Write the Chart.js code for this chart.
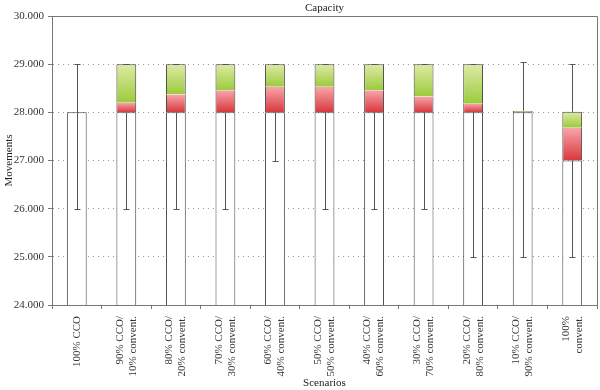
<!DOCTYPE html>
<html>
<head>
<meta charset="utf-8">
<script src="https://cdn.jsdelivr.net/npm/chart.js@4.4.1/dist/chart.umd.min.js"></script>
<style>
  html, body { margin: 0; padding: 0; background: #fff; }
  #wrap { width: 600px; height: 390px; }
</style>
</head>
<body>
<div id="wrap"><canvas id="boxChart"></canvas></div>
<script>
// scenarios
const scenarios = [
  ['100% CCO'],
  ['90% CCO/', '10% convent.'],
  ['80% CCO/', '20% convent.'],
  ['70% CCO/', '30% convent.'],
  ['60% CCO/', '40% convent.'],
  ['50% CCO/', '50% convent.'],
  ['40% CCO/', '60% convent.'],
  ['30% CCO/', '70% convent.'],
  ['20% CCO/', '80% convent.'],
  ['10% CCO/', '90% convent.'],
  ['100%', 'convent.']
];

// box plot values (movements)
const minVals    = [26000, 26000, 26000, 26000, 27000, 26000, 26000, 26000, 25000, 25000, 25000];
const q1Vals     = [28000, 28000, 28000, 28000, 28000, 28000, 28000, 28000, 28000, 28000, 27000];
const medianVals = [28000, 28200, 28370, 28460, 28530, 28530, 28460, 28330, 28180, 28000, 27680];
const q3Vals     = [28000, 29000, 29000, 29000, 29000, 29000, 29000, 29000, 29000, 28030, 28010];
const maxVals    = [29000, 29000, 29000, 29000, 29000, 29000, 29000, 29000, 29000, 29050, 29000];

const yTicks = [24000, 25000, 26000, 27000, 28000, 29000, 30000];
const axisMin = 24000;

const FONT = '"Liberation Serif", "DejaVu Serif", serif';

// gradient fill for one floating bar
function gradientFill(topColor, bottomColor) {
  return (c) => {
    const chart = c.chart;
    if (!chart.chartArea || !Array.isArray(c.raw)) return bottomColor;
    const y = chart.scales.y;
    const top = y.getPixelForValue(c.raw[1]);
    const bot = y.getPixelForValue(c.raw[0]);
    if (Math.abs(bot - top) < 1) return bottomColor;
    const g = chart.ctx.createLinearGradient(0, top, 0, bot);
    g.addColorStop(0, topColor);
    g.addColorStop(1, bottomColor);
    return g;
  };
}

// plugin: whiskers, frame, title and the two-line category labels
const boxExtras = {
  id: 'boxExtras',
  afterDatasetsDraw(chart) {
    const { ctx, chartArea, scales: { x, y } } = chart;
    ctx.save();
    ctx.strokeStyle = '#555';
    ctx.lineWidth = 1;
    minVals.forEach((mn, i) => {
      const cx = Math.round(x.getPixelForValue(i)) + 0.5;
      const yMin = Math.round(y.getPixelForValue(mn)) + 0.5;
      const yQ1 = y.getPixelForValue(q1Vals[i]);
      const yQ3 = y.getPixelForValue(q3Vals[i]);
      const yMax = Math.round(y.getPixelForValue(maxVals[i])) + 0.5;
      ctx.beginPath();
      ctx.moveTo(cx, yQ1);
      ctx.lineTo(cx, yMin);
      ctx.moveTo(cx - 3, yMin);
      ctx.lineTo(cx + 3, yMin);
      if (yMax < yQ3) {
        ctx.moveTo(cx, yQ3);
        ctx.lineTo(cx, yMax);
      }
      ctx.moveTo(cx - 3, yMax);
      ctx.lineTo(cx + 3, yMax);
      ctx.stroke();
    });

    // frame
    ctx.strokeStyle = '#777';
    ctx.beginPath();
    ctx.moveTo(chartArea.left, chartArea.top + 0.5);
    ctx.lineTo(chartArea.right + 0.5, chartArea.top + 0.5);
    ctx.lineTo(chartArea.right + 0.5, chartArea.bottom);
    ctx.stroke();

    // title
    ctx.fillStyle = '#222';
    ctx.font = '11px ' + FONT;
    ctx.textAlign = 'center';
    ctx.textBaseline = 'middle';
    ctx.fillText('Capacity', (chartArea.left + chartArea.right) / 2, chartArea.top - 8);

    // category labels, rotated, lines centred on the category
    ctx.fillStyle = '#333';
    ctx.textAlign = 'right';
    const lh = 13;
    scenarios.forEach((lines, i) => {
      const cx = x.getPixelForValue(i);
      lines.forEach((txt, j) => {
        ctx.save();
        ctx.translate(cx + (j - (lines.length - 1) / 2) * lh, chartArea.bottom + 11);
        ctx.rotate(-Math.PI / 2);
        ctx.fillText(txt, 0, 0);
        ctx.restore();
      });
    });
    ctx.restore();
  }
};

const barCommon = {
  borderColor: '#444',
  borderSkipped: false,
  inflateAmount: 0,
  grouped: false,
  barPercentage: 0.4,
  categoryPercentage: 1
};

new Chart(document.getElementById('boxChart'), {
  type: 'bar',
  data: {
    labels: scenarios,
    datasets: [
      {
        ...barCommon,
        label: 'base',
        data: q1Vals.map(v => [axisMin, v]),
        backgroundColor: '#ffffff',
        borderWidth: { left: 1, right: 1, top: 1, bottom: 0 }
      },
      {
        ...barCommon,
        label: 'Q1-median',
        data: q1Vals.map((v, i) => [v, medianVals[i]]),
        backgroundColor: gradientFill('#f8a6ab', '#d8383c'),
        borderWidth: { left: 1, right: 1, top: 0, bottom: 0 }
      },
      {
        ...barCommon,
        label: 'median-Q3',
        data: medianVals.map((v, i) => [v, q3Vals[i]]),
        backgroundColor: gradientFill('#dfeaa6', '#9bcb3c'),
        borderWidth: { left: 1, right: 1, top: 1, bottom: 0 }
      }
    ]
  },
  options: {
    responsive: true,
    maintainAspectRatio: false,
    animation: false,
    layout: { padding: { top: 16, right: 3, left: 0, bottom: 0 } },
    plugins: {
      legend: { display: false },
      tooltip: { enabled: false }
    },
    scales: {
      x: {
        afterFit: (scale) => { scale.height = 85; },
        grid: {
          offset: true,
          drawOnChartArea: false,
          tickLength: 4,
          tickColor: '#777'
        },
        border: { display: true, color: '#777' },
        ticks: { display: false, autoSkip: false },
        title: {
          display: true,
          text: 'Scenarios',
          color: '#222',
          font: { family: FONT, size: 11 },
          padding: { top: 0, bottom: 0 }
        }
      },
      y: {
        min: axisMin,
        max: 30000,
        afterFit: (scale) => { scale.width = 52; },
        afterBuildTicks: (axis) => { axis.ticks = yTicks.map(v => ({ value: v })); },
        grid: {
          color: '#999',
          tickColor: '#777',
          tickLength: 4,
          tickBorderDash: []
        },
        border: { display: true, color: '#777', dash: [1, 4] },
        ticks: {
          color: '#333',
          font: { family: FONT, size: 11 },
          padding: 4,
          callback: (v) => (v / 1000).toFixed(3)
        },
        title: {
          display: true,
          text: 'Movements',
          color: '#222',
          font: { family: FONT, size: 11 },
          padding: { top: 3, bottom: 0 }
        }
      }
    }
  },
  plugins: [boxExtras]
});
</script>
</body>
</html>
